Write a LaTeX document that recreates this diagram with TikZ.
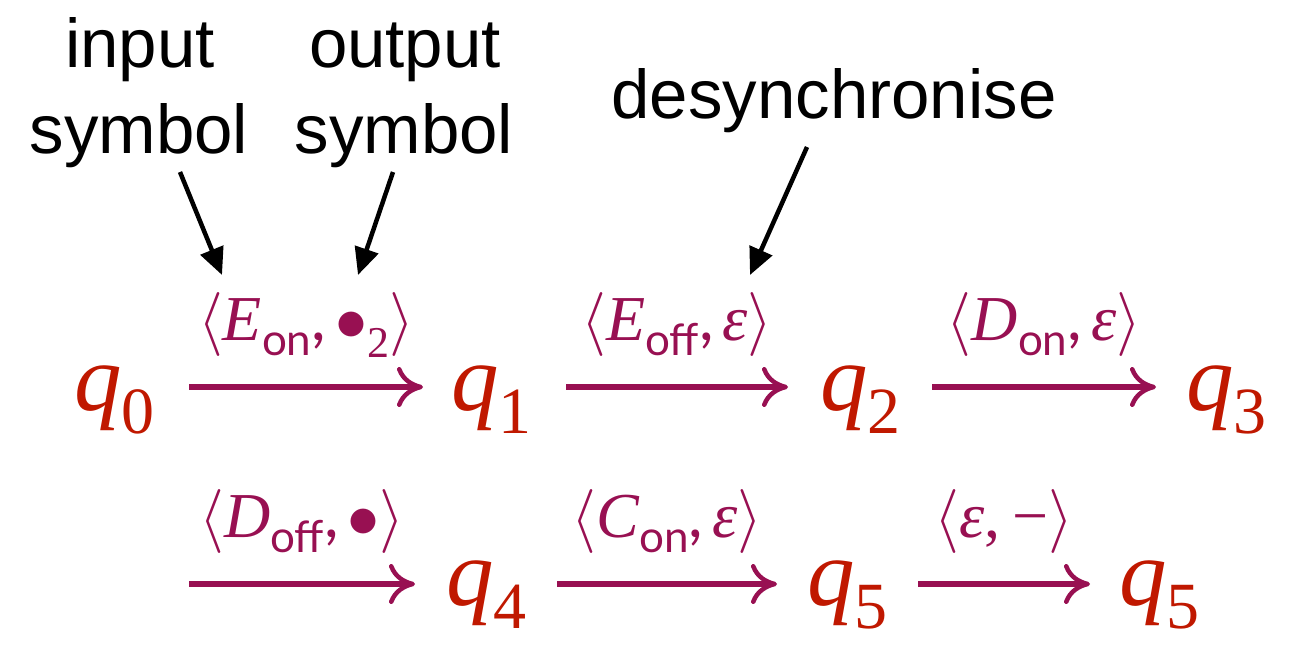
\RequirePackage{fix-cm}
\documentclass[tikz,border=0pt]{standalone}
\usepackage{fontspec}
\newfontfamily\helv{Liberation Sans}
\newfontfamily\sansx{Lato}
\newfontfamily\tser{Liberation Serif}
\usetikzlibrary{arrows.meta,calc}
\definecolor{qred}{RGB}{192,24,0}
\definecolor{tpurple}{RGB}{152,16,82}
\newcommand\mi[1]{{\itshape #1}}
\newcommand\subsf[1]{\raisebox{-15pt}{\sansx\fontsize{44}{44}\selectfont #1}}
\newcommand\lng{$\langle$}
\newcommand\rng{$\rangle$}
\newcommand\cma{{\sansx,}\hspace{9pt}}
\newcommand\qs[1]{{\itshape q}\raisebox{-23pt}{\fontsize{66}{66}\selectfont #1}}
\begin{document}
\begin{tikzpicture}[x=1pt,y=-1pt,
  state/.style={text=qred, inner sep=0pt, anchor=base west, font=\tser\fontsize{95}{95}\selectfont},
  trans/.style={draw=tpurple, line width=6.5pt, -{Computer Modern Rightarrow[length=26pt,width=40pt,line width=4.5pt]}},
  lab/.style={text=tpurple, inner sep=0pt, anchor=base, font=\tser\fontsize{64}{64}\selectfont, yshift=47pt},
  note/.style={inner sep=0pt, anchor=base, font=\helv\fontsize{69}{69}\selectfont},
  ann/.style={draw=black, line width=4.5pt, -{Triangle[length=27pt,width=24pt]}}]
\useasboundingbox (0,0) rectangle (1305,649);
% annotations
\node[note] (in1) at (140,67) {input};
\node[note] (in2) at (139,153) {symbol};
\node[note] (out1) at (405,67) {output};
\node[note] (out2) at (404,153) {symbol};
\node[note] (des) at (834,118) {desynchronise};
\coordinate (inS) at (180,172);
\coordinate (inT) at (222,275);
\coordinate (outS) at (393,172);
\coordinate (outT) at (358,275);
\coordinate (desS) at (807,147);
\coordinate (desT) at (750,275);
\draw[ann] (inS) -- (inT);
\draw[ann] (outS) -- (outT);
\draw[ann] (desS) -- (desT);
% states
\node[state] (q0) at (74,410) {\qs{0}};
\node[state] (q1) at (451,410) {\qs{1}};
\node[state] (q2) at (820,410) {\qs{2}};
\node[state] (q3) at (1186,410) {\qs{3}};
\node[state] (q4) at (446,605) {\qs{4}};
\node[state] (q5) at (807,605) {\qs{5}};
\node[state] (q5b) at (1119,605) {\qs{5}};
\coordinate (c4) at (189,584);
% transitions
\draw[trans] ($(q0.base west)+(115,-23)$) -- ($(q1.base west)+(-28,-23)$)
  node[lab, midway] (l1) {\lng\mi{E}\subsf{on}\cma$\bullet$\raisebox{-17pt}{\fontsize{44}{44}\selectfont 2}\rng};
\draw[trans] ($(q1.base west)+(115,-23)$) -- ($(q2.base west)+(-32,-23)$)
  node[lab, midway] (l2) {\lng\mi{E}\subsf{off}\cma\mi{ε}\rng};
\draw[trans] ($(q2.base west)+(112,-23)$) -- ($(q3.base west)+(-30,-23)$)
  node[lab, midway] (l3) {\lng\mi{D}\subsf{on}\cma\mi{ε}\rng};
\draw[trans] (c4) -- ($(q4.base west)+(-31,-21)$)
  node[lab, midway] (l4) {\lng\mi{D}\subsf{off}\cma$\bullet$\rng};
\draw[trans] ($(q4.base west)+(111,-21)$) -- ($(q5.base west)+(-30,-21)$)
  node[lab, midway] (l5) {\lng\mi{C}\subsf{on}\cma\mi{ε}\rng};
\draw[trans] ($(q5.base west)+(111,-21)$) -- ($(q5b.base west)+(-29,-21)$)
  node[lab, midway] (l6) {\lng\mi{ε},\hspace{12pt}−\rng};
\end{tikzpicture}
\end{document}
